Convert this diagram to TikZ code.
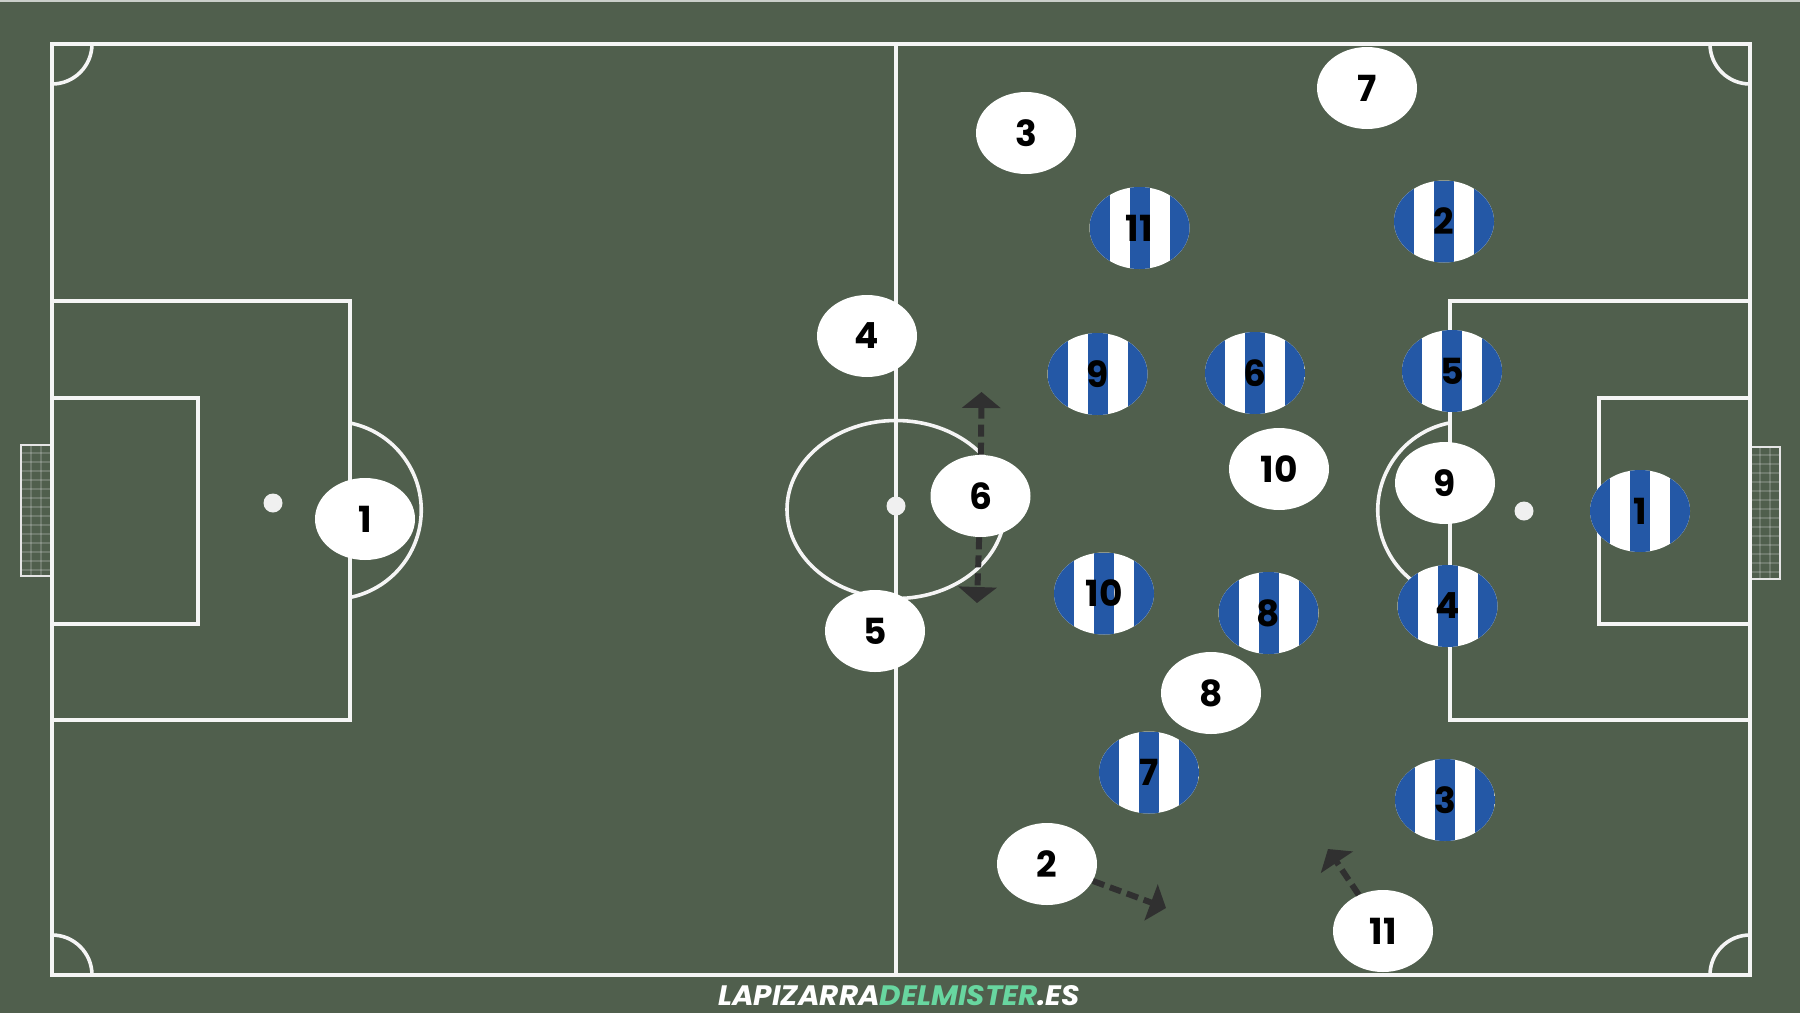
\documentclass[tikz,border=0pt]{standalone}
\usepackage{fontspec}
\usepackage{graphicx}
\setmainfont{Poppins}
\newfontfamily\wmfont{Poppins}
\usetikzlibrary{shapes.geometric,arrows.meta}
\definecolor{pitch}{RGB}{80,95,77}
\definecolor{kitblue}{RGB}{36,88,166}
\definecolor{mint}{RGB}{104,214,160}
\definecolor{arrowgray}{RGB}{48,48,48}
\tikzset{
  fieldline/.style={draw=white!96!black, line width=1.8pt},
  player/.style={ellipse, minimum width=50pt, minimum height=41pt, inner sep=0pt,
    fill=white, text=black, font=\fontsize{18}{18}\selectfont\bfseries},
  striped/.style={player, path picture={
    \fill[kitblue] (path picture bounding box.south west) rectangle ([xshift=-15pt]path picture bounding box.north);
    \fill[kitblue] ([xshift=-5pt]path picture bounding box.south) rectangle ([xshift=5pt]path picture bounding box.north);
    \fill[kitblue] ([xshift=15pt]path picture bounding box.south) rectangle (path picture bounding box.north east);
  }},
  move/.style={draw=arrowgray, line width=3pt, dash pattern=on 6pt off 3pt,
    -{Triangle[width=19pt,length=8pt]}},
  net/.style={draw=white, opacity=0.18, line width=0.6pt}
}
\begin{document}
\begin{tikzpicture}[x=0.5pt, y=-0.5pt]
\fill[pitch] (0,0) rectangle (1800,1013);
\useasboundingbox (0,0) rectangle (1800,1013);
\draw[white!70!pitch, line width=1pt] (0,0.5) -- (1800,0.5);
% goal nets
\foreach \yy in {453,462,...,572} {\draw[net] (21,\yy) -- (52,\yy); \draw[net] (1750,\yy+2) -- (1780,\yy+2);}
\foreach \xx in {31,41} {\draw[net] (\xx,445) -- (\xx,576);}
\foreach \xx in {1760,1770} {\draw[net] (\xx,447) -- (\xx,579);}
\draw[draw=white!90!black, line width=1.3pt] (52,445) -- (21,445) -- (21,576) -- (52,576);
\draw[draw=white!90!black, line width=1.3pt] (1750,447) -- (1780,447) -- (1780,579) -- (1750,579);
% field
\draw[fieldline] (52,44) rectangle (1750,975);
\draw[fieldline] (896,44) -- (896,975);
\draw[fieldline] (896,509.5) ellipse [x radius=109, y radius=89];
\fill[white!94!black] (896,506) circle [radius=9.5];
% left areas
\draw[fieldline] (52,301) -- (350,301) -- (350,720) -- (52,720);
\draw[fieldline] (52,398) -- (198,398) -- (198,624) -- (52,624);
\fill[white!94!black] (273,503) circle [radius=9.5];
\draw[fieldline] (350,423) arc[start angle=-78.5, end angle=78.5, radius=89];
% right areas
\draw[fieldline] (1750,301) -- (1450,301) -- (1450,720) -- (1750,720);
\draw[fieldline] (1750,398) -- (1599,398) -- (1599,624) -- (1750,624);
\fill[white!94!black] (1524,511) circle [radius=9.5];
\draw[fieldline] (1449,423) arc[start angle=258.5, end angle=101.5, radius=89];
% corners
\draw[fieldline] (92,44) arc[start angle=0, end angle=90, radius=40];
\draw[fieldline] (1710,44) arc[start angle=180, end angle=90, radius=40];
\draw[fieldline] (92,975) arc[start angle=0, end angle=-90, radius=40];
\draw[fieldline] (1710,975) arc[start angle=180, end angle=270, radius=40];
% white team
\node[player] (w1) at (365,519) {1};
\node[player] (w4) at (867,336) {4};
\node[player] (w5) at (875,631) {5};
\node[player] (w6) at (980.5,496) {6};
\node[player] (w3) at (1026,133) {3};
\node[player] (w7) at (1367,88) {7};
\node[player] (w10) at (1279,469) {10};
\node[player] (w9) at (1445,483) {9};
\node[player] (w8) at (1211,693) {8};
\node[player] (w2) at (1047,864) {2};
\node[player] (w11) at (1383,931) {11};
% striped team
\node[striped] (b11) at (1139.5,228) {11};
\node[striped] (b2) at (1444,221.5) {2};
\node[striped] (b9) at (1097.5,374) {9};
\node[striped] (b6) at (1255,373) {6};
\node[striped] (b5) at (1452,371) {5};
\node[striped] (b10) at (1104,593.5) {10};
\node[striped] (b8) at (1268.5,613) {8};
\node[striped] (b4) at (1447.5,606) {4};
\node[striped] (b7) at (1149,772.5) {7};
\node[striped] (b3) at (1445,800) {3};
\node[striped] (b1) at (1640,511) {1};
% movement arrows
\coordinate (m6u) at (981.5,392);
\coordinate (m6d) at (977,603);
\coordinate (m2) at (1166,908);
\coordinate (m11) at (1328,849);
\draw[move] (w6) -- (m6u);
\draw[move] (w6) -- (m6d);
\draw[move] (w2) -- (m2);
\draw[move] (w11) -- (m11);
% watermark
\node[inner sep=0pt, text=white] (wm) at (899,996) {\resizebox{181pt}{10pt}{\wmfont\bfseries\itshape LAPIZARRA\textcolor{mint}{DELMISTER}.ES}};
\end{tikzpicture}
\end{document}
